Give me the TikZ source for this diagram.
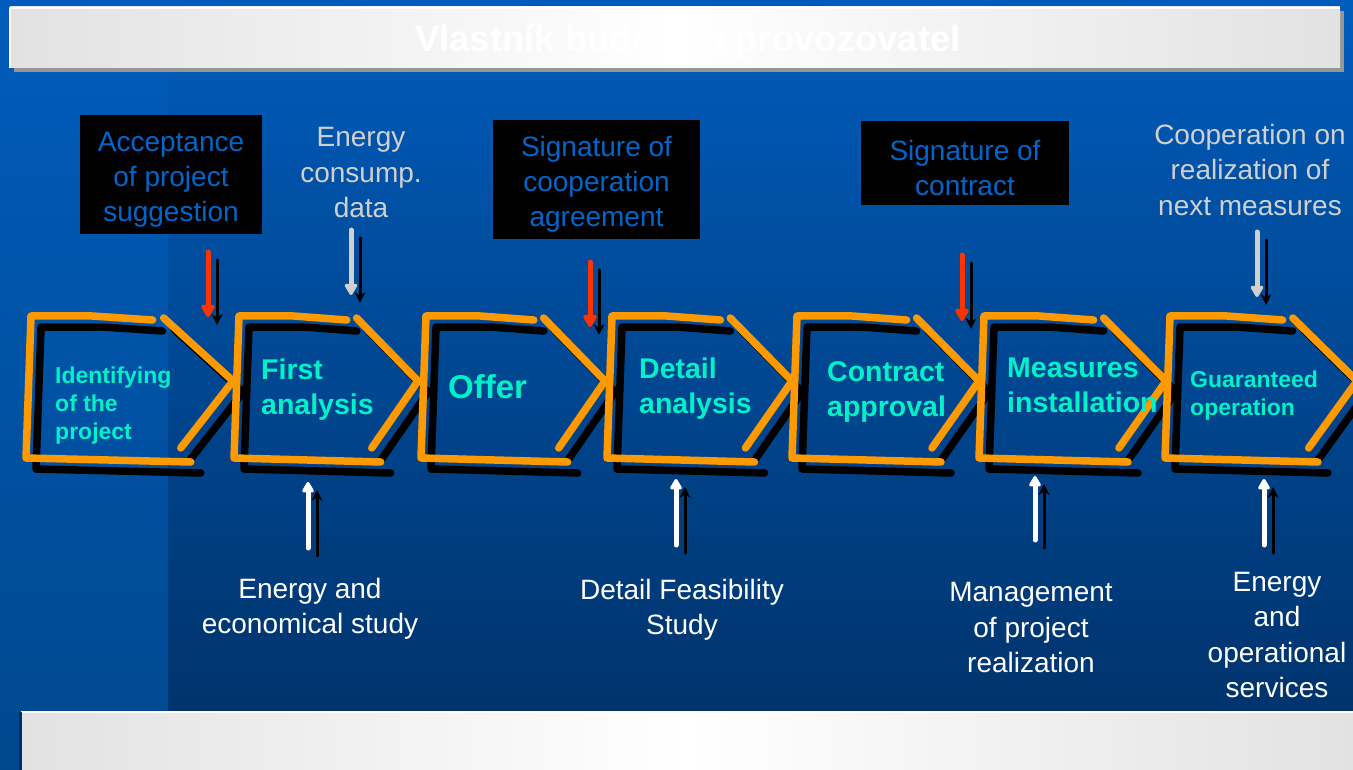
\documentclass[tikz,border=0pt]{standalone}
\usepackage{fontspec}
\setmainfont{Liberation Sans}
\usetikzlibrary{arrows.meta}

\definecolor{bgtop}{RGB}{0,92,187}
\definecolor{bgbot}{RGB}{0,48,102}
\definecolor{bgside}{RGB}{0,72,142}
\definecolor{barside}{RGB}{226,226,226}
\definecolor{barshadow}{RGB}{150,150,150}
\definecolor{chevorange}{RGB}{255,153,0}
\definecolor{steptext}{RGB}{0,240,200}
\definecolor{boxtext}{RGB}{0,102,204}
\definecolor{inputgray}{RGB}{208,208,208}
\definecolor{signred}{RGB}{255,51,0}

\begin{document}
\begin{tikzpicture}[x=1pt,y=-1pt,line cap=round,line join=round,
  milestone/.style={text=boxtext,align=center,inner sep=0pt,
    font=\fontsize{28}{35}\selectfont},
  input/.style={text=inputgray,align=center,inner sep=0pt,font=\fontsize{28}{35.5}\selectfont},
  output/.style={text=white,align=center,inner sep=0pt,font=\fontsize{28}{35.5}\selectfont},
  steplabel/.style={text=steptext,anchor=west,align=left,inner sep=0pt,
    font=\bfseries\fontsize{28.5}{35}\selectfont},
  smallstep/.style={steplabel,font=\bfseries\fontsize{23}{28}\selectfont},
  chevline/.style={chevorange,line width=7.5pt},
  chevshadow/.style={black,line width=7.5pt},
  signarrow/.style={signred,line width=5pt,-{Triangle[width=15pt,length=14pt,round]}},
  grayarrow/.style={inputgray,line width=5pt,-{Triangle[width=14pt,length=13pt,round]}},
  whitearrow/.style={white,line width=5pt,-{Triangle[width=13pt,length=12pt,round]}},
  shadowarrow/.style={black,line width=3pt,-{Stealth[width=11pt,length=11pt]}}]
  \useasboundingbox (0,0) rectangle (1353,770);
  \clip (0,0) rectangle (1353,770);

  % background
  \shade[top color=bgtop,bottom color=bgside] (0,0) rectangle (1353,770);
  \shade[top color=bgtop,bottom color=bgbot] (168,0) rectangle (1353,770);

  % top bar
  \fill[barshadow] (14,11) rectangle (1344,72);
  \shade[left color=barside,right color=barside,middle color=white] (10,7) rectangle (1340,68);
  \draw[white,line width=2.5pt,line cap=butt] (10,68) -- (10,8) -- (1340,8);
  \node[text=white,inner sep=0pt,font=\bfseries\fontsize{36.5}{40}\selectfont] (owner) at (688,42) {Vlastník budovy a provozovatel};

  % bottom bar
  \shade[left color=barside,right color=barside,middle color=white] (21,712) rectangle (1353,770);
  \draw[white,line width=1.5pt,line cap=butt] (21,712) -- (1353,712);
  \draw[bgbot,line width=3pt,line cap=butt] (20,712) -- (20,770);

  % chevrons: shadows, then orange strokes
  \foreach \L/\W in {32/201,240/178,427/178,613/179,798/181,985/181,1171/186}{
    \begin{scope}[shift={(10,11)}]
      \draw[chevshadow] ({\L+0.6*\W},320) -- ({\L+0.3*\W},316) -- (\L-1,316) -- (\L-6,458) -- ({\L+0.79*\W},462);
      \draw[chevshadow] ({\L+0.655*\W},318) -- (\L+\W,381) -- ({\L+0.74*\W},448);
    \end{scope}
  }
  \foreach \L/\W in {32/201,240/178,427/178,613/179,798/181,985/181,1171/186}{
    \draw[chevline] ({\L+0.6*\W},320) -- ({\L+0.3*\W},316) -- (\L-1,316) -- (\L-6,458) -- ({\L+0.79*\W},462);
    \draw[chevline] ({\L+0.655*\W},318) -- (\L+\W,381) -- ({\L+0.74*\W},448);
  }

  % step labels
  \node[smallstep] (identify) at (55,406) {Identifying\\of the\\project};
  \node[steplabel] (firstan) at (261,390) {First\\analysis};
  \node[steplabel,font=\bfseries\fontsize{33}{38}\selectfont] (offer) at (448,387) {Offer};
  \node[steplabel] (detailan) at (639,389) {Detail\\analysis};
  \node[steplabel] (contract) at (827,392) {Contract\\approval};
  \node[steplabel] (measures) at (1007,385) {Measures\\installation};
  \node[smallstep] (guaranteed) at (1190,396) {Guaranteed\\operation};

  % milestones
  \fill (80,115) rectangle (262,234);
  \fill (493,120) rectangle (700,239);
  \fill (861,121) rectangle (1069,205);
  \node[milestone] (accept) at (171,179.5) {Acceptance\\of project\\suggestion};
  \node[milestone] (coopsign) at (596.5,184) {Signature of\\cooperation\\agreement};
  \node[milestone] (contrsign) at (965,168) {Signature of\\contract};

  % inputs
  \node[input] (consdata) at (361,173) {Energy\\consump.\\data};
  \node[input] (nextmeas) at (1250,169.5) {Cooperation on\\realization of\\next measures};

  % outputs
  \node[output] (ecostudy) at (310,609) {Energy and\\economical study};
  \node[output] (feasstudy) at (682,610) {Detail Feasibility\\Study};
  \node[output] (management) at (1031,628) {Management\\of project\\realization};
  \node[output] (services) at (1277,635) {Energy\\and\\operational\\services};

  % arrow ends
  \coordinate (acc-a) at (208,252);   \coordinate (acc-b) at (208,317);
  \coordinate (cons-a) at (351,230);  \coordinate (cons-b) at (351,295);
  \coordinate (coop-a) at (590,262);  \coordinate (coop-b) at (590,327);
  \coordinate (contr-a) at (962,255); \coordinate (contr-b) at (962,321);
  \coordinate (next-a) at (1257,232); \coordinate (next-b) at (1257,297);
  \coordinate (eco-a) at (308,548);   \coordinate (eco-b) at (308,482);
  \coordinate (feas-a) at (676,545);  \coordinate (feas-b) at (676,479);
  \coordinate (man-a) at (1035,540);  \coordinate (man-b) at (1035,476);
  \coordinate (serv-a) at (1264,545); \coordinate (serv-b) at (1264,479);

  % arrow shadows
  \foreach \a in {acc,cons,coop,contr,next,eco,feas,man,serv}
    \draw[shadowarrow] ([shift={(9,8)}]\a-a) -- ([shift={(9,8)}]\a-b);

  % arrows
  \draw[signarrow] (acc-a) -- (acc-b);
  \draw[signarrow] (coop-a) -- (coop-b);
  \draw[signarrow] (contr-a) -- (contr-b);
  \draw[grayarrow] (cons-a) -- (cons-b);
  \draw[grayarrow] (next-a) -- (next-b);
  \draw[whitearrow] (eco-a) -- (eco-b);
  \draw[whitearrow] (feas-a) -- (feas-b);
  \draw[whitearrow] (man-a) -- (man-b);
  \draw[whitearrow] (serv-a) -- (serv-b);
\end{tikzpicture}
\end{document}
